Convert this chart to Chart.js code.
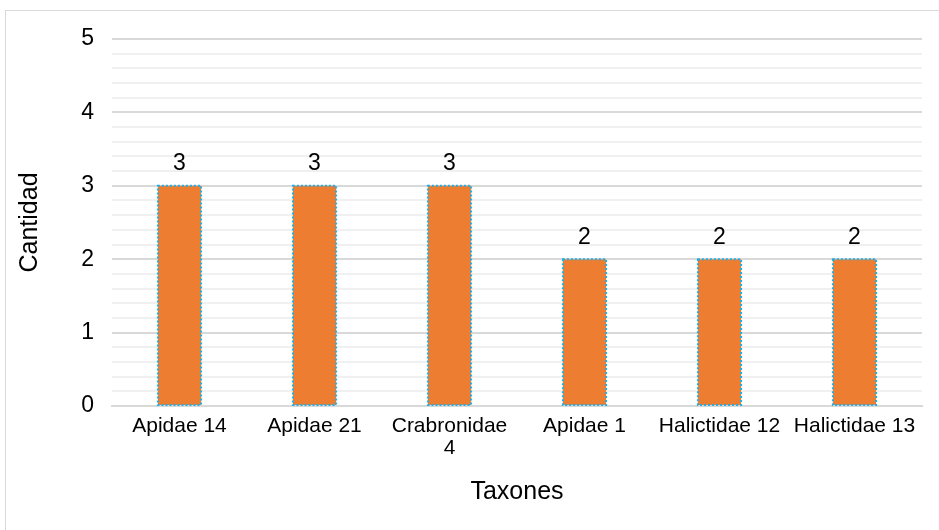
<!DOCTYPE html>
<html>
<head>
<meta charset="utf-8">
<script src="https://cdn.jsdelivr.net/npm/chart.js@4.4.1/dist/chart.umd.min.js"></script>
<style>
  html, body { margin: 0; padding: 0; background: #fff; overflow: hidden; }
  #wrap { position: relative; width: 939px; height: 530px; }
  #frame { position: absolute; left: 5px; top: 10px; width: 1000px; height: 600px; border: 1px solid #d9d9d9; box-sizing: border-box; }
  canvas { position: absolute; left: 0; top: 0; }
</style>
</head>
<body>
<div id="wrap">
  <div id="frame"></div>
  <canvas id="chart" width="939" height="530"></canvas>
</div>
<script>
const categories = ['Apidae 14', 'Apidae 21', ['Crabronidae', '4'], 'Apidae 1', 'Halictidae 12', 'Halictidae 13'];
const cantidad = [3, 3, 3, 2, 2, 2];
const yTickLabels = [0, 1, 2, 3, 4, 5];

const FONT = "'Liberation Sans', Arial, sans-serif";

const isMajor = v => yTickLabels.some(t => Math.abs(v - t) < 1e-6);

// dotted blue outline + value label above each bar
const barDecor = {
    id: 'barDecor',
    afterDatasetsDraw(chart) {
        const ctx = chart.ctx;
        const meta = chart.getDatasetMeta(0);
        ctx.save();
        meta.data.forEach((bar, i) => {
            const w = bar.width;
            const left = bar.x - w / 2;
            const top = bar.y;
            const h = bar.base - bar.y;
            ctx.setLineDash([2, 2]);
            ctx.lineWidth = 2;
            ctx.strokeStyle = '#1cb0ea';
            ctx.strokeRect(left, top, w, h);
            ctx.setLineDash([]);
            ctx.fillStyle = '#000';
            ctx.font = '23px ' + FONT;
            ctx.textAlign = 'center';
            ctx.textBaseline = 'middle';
            ctx.fillText(String(cantidad[i]), bar.x, top - 22);
        });
        ctx.restore();
    }
};

new Chart(document.getElementById('chart').getContext('2d'), {
    type: 'bar',
    data: {
        labels: categories,
        datasets: [{
            data: cantidad,
            backgroundColor: '#ed7d31',
            borderWidth: 0,
            barPercentage: 0.64,
            categoryPercentage: 0.5
        }]
    },
    options: {
        responsive: false,
        animation: false,
        layout: { padding: { top: 39, right: 17, bottom: 0, left: 0 } },
        plugins: {
            legend: { display: false },
            tooltip: { enabled: false }
        },
        scales: {
            x: {
                grid: { display: false, drawTicks: false },
                border: { color: '#d9d9d9', width: 2 },
                ticks: {
                    color: '#000',
                    padding: 9,
                    maxRotation: 0,
                    autoSkip: false,
                    font: { family: FONT, size: 21, lineHeight: 1.05 }
                },
                title: {
                    display: true,
                    text: 'Taxones',
                    color: '#000',
                    font: { family: FONT, size: 25 },
                    padding: { top: 0, bottom: 23 }
                },
                afterFit(scale) { scale.height = 124; }
            },
            y: {
                min: 0,
                max: 5,
                grid: {
                    drawTicks: false,
                    color: ctx => isMajor(ctx.tick.value) ? '#d9d9d9' : '#f0f0f0',
                    lineWidth: 2
                },
                border: { display: false },
                ticks: {
                    stepSize: 0.2,
                    color: '#000',
                    padding: 18,
                    autoSkip: false,
                    font: { family: FONT, size: 23 },
                    callback: v => isMajor(v) ? String(Math.round(v)) : ''
                },
                title: {
                    display: true,
                    text: 'Cantidad',
                    color: '#000',
                    font: { family: FONT, size: 25 },
                    padding: { top: 15, bottom: 0 }
                },
                afterFit(scale) { scale.width = 112; }
            }
        }
    },
    plugins: [barDecor]
});
</script>
</body>
</html>
